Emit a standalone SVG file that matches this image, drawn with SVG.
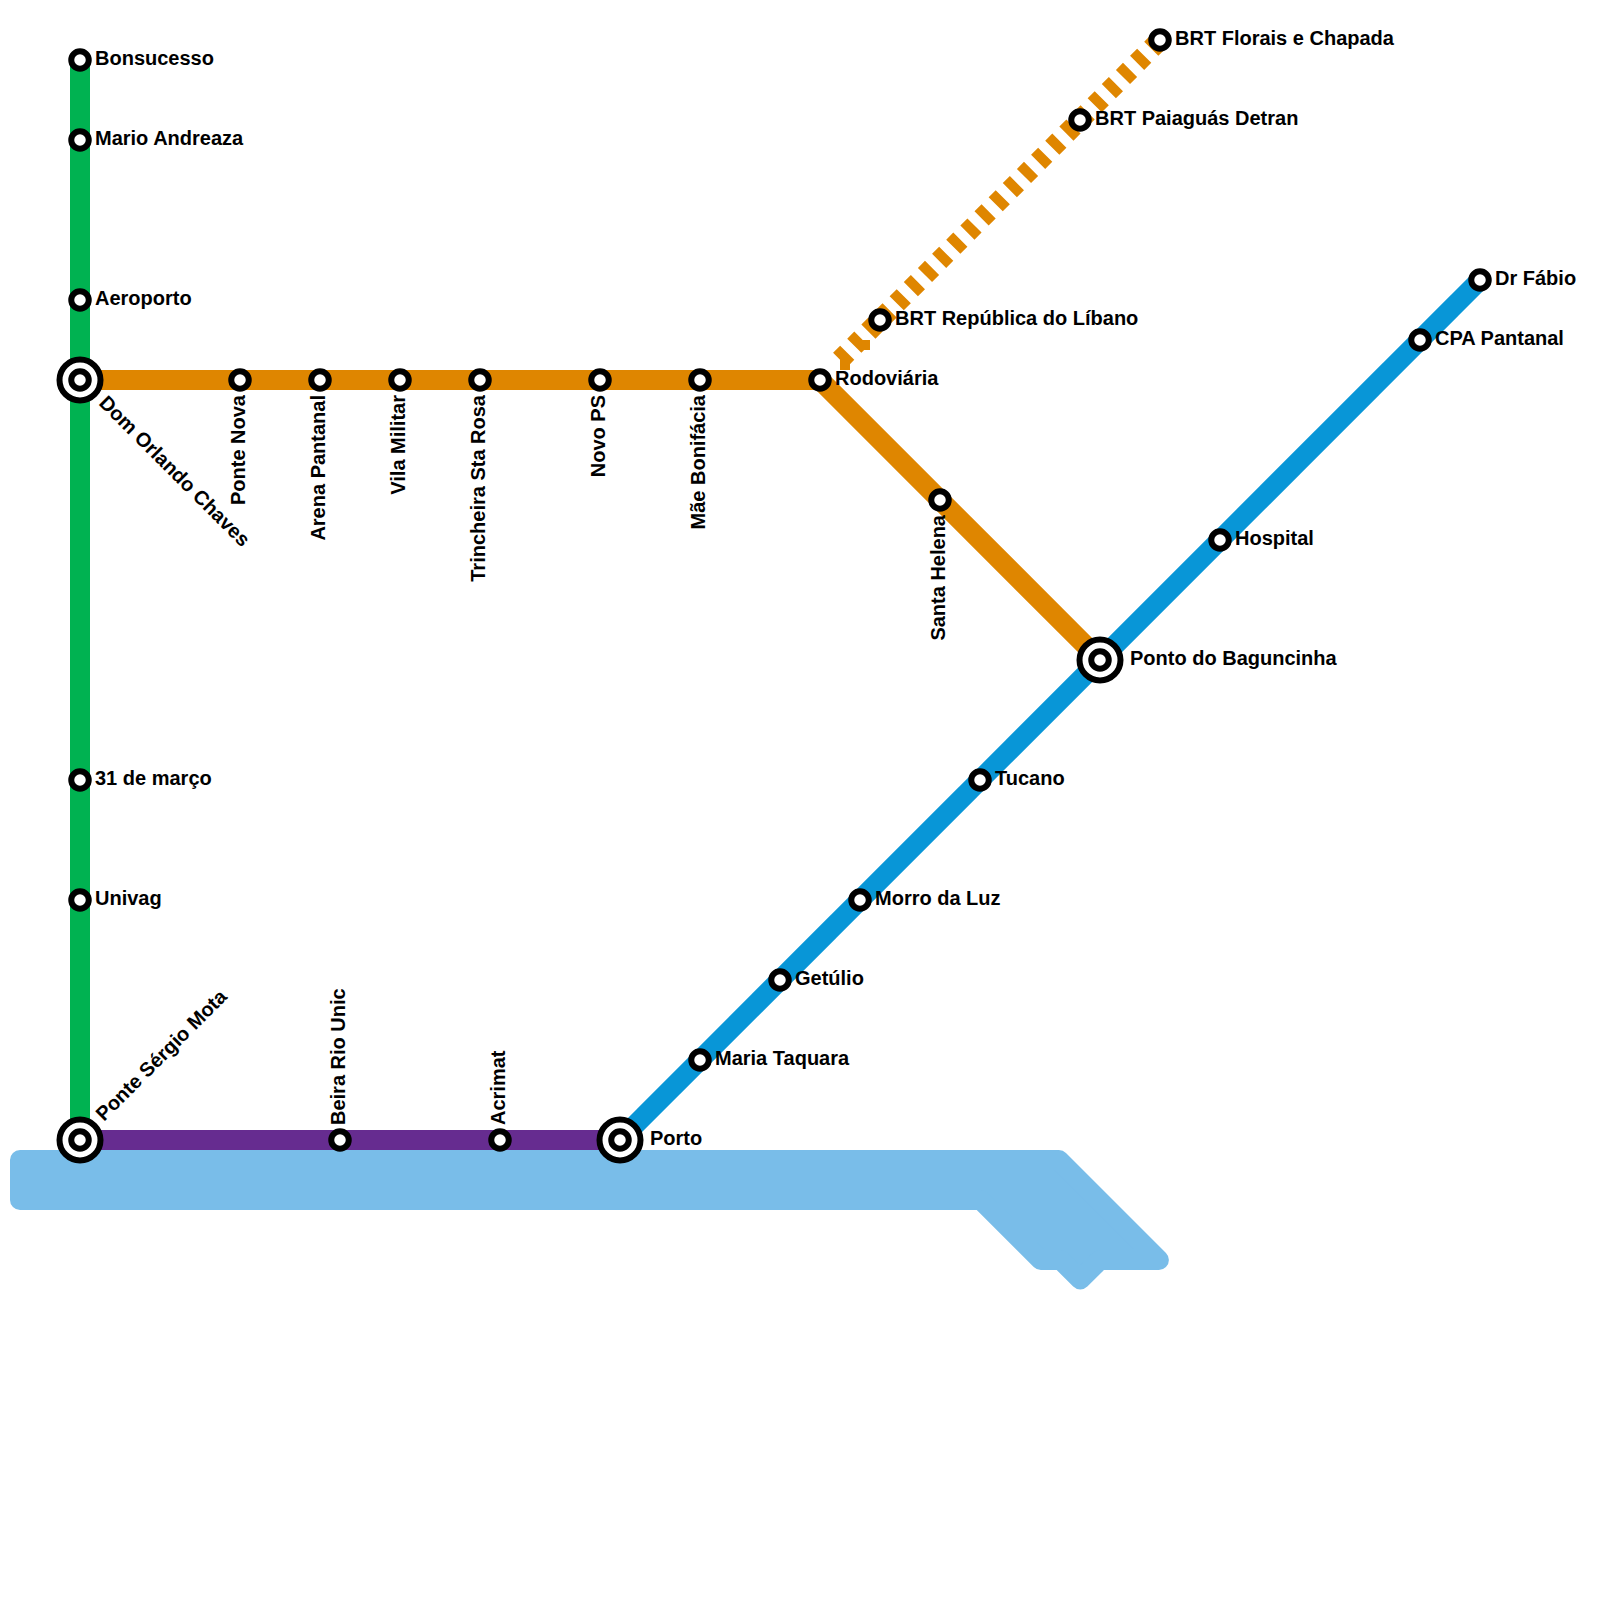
<svg xmlns="http://www.w3.org/2000/svg" width="1600" height="1600" viewBox="0 0 1600 1600">
<style>
.line{fill:none;stroke-width:20}
.st{fill:#fff;stroke:#000;stroke-width:6}
.lb{font-family:"Liberation Sans",Arial,sans-serif;font-weight:700;font-size:20px;fill:#000}
.v{text-anchor:end}
</style>
<defs>
<g id="s"><circle class="st" r="8.75"/></g>
<g id="x"><circle class="st" r="20.5"/><circle class="st" r="8.75"/></g>
</defs>
<path id="water" d="M20 1160H1058.9L1158.9 1260H1099.9L1080.3 1279.5L1060.8 1260H1040.8L980.8 1200H20Z" fill="#79bde9" stroke="#79bde9" stroke-width="20" stroke-linejoin="round"/>
<g id="connectors">
<path class="line" stroke="#00b251" d="M80 60V1140"/>
<path class="line" stroke="#df8600" d="M80 380H820L1100 660"/>
<path class="line" stroke="#662c90" d="M80 1140H620"/>
<path class="line" stroke="#0896d7" d="M620 1140L1480 280"/>
<path class="line" stroke="#df8600" stroke-dasharray="10 10" stroke-dashoffset="-2.35" d="M1160 40L835 365"/>
<path fill="#df8600" d="M840 358H850V370H840ZM860 340H870V350H860Z"/>
</g>
<g id="n-bonsucesso"><use href="#s" x="80" y="60"/><text class="lb" x="95" y="65">Bonsucesso</text></g>
<g id="n-mario"><use href="#s" x="80" y="140"/><text class="lb" x="95" y="145">Mario Andreaza</text></g>
<g id="n-aeroporto"><use href="#s" x="80" y="300"/><text class="lb" x="95" y="305">Aeroporto</text></g>
<g id="n-dom"><use href="#x" x="80" y="380"/><text class="lb" transform="translate(98 404) rotate(45)">Dom Orlando Chaves</text></g>
<g id="n-31"><use href="#s" x="80" y="780"/><text class="lb" x="95" y="785">31 de março</text></g>
<g id="n-univag"><use href="#s" x="80" y="900"/><text class="lb" x="95" y="905">Univag</text></g>
<g id="n-psm"><use href="#x" x="80" y="1140"/><text class="lb" transform="translate(104 1122) rotate(-45)">Ponte Sérgio Mota</text></g>
<g id="n-pontenova"><use href="#s" x="240" y="380"/><text class="lb v" transform="translate(245 395) rotate(-90)">Ponte Nova</text></g>
<g id="n-arena"><use href="#s" x="320" y="380"/><text class="lb v" transform="translate(325 395) rotate(-90)">Arena Pantanal</text></g>
<g id="n-vila"><use href="#s" x="400" y="380"/><text class="lb v" transform="translate(405 395) rotate(-90)">Vila Militar</text></g>
<g id="n-trincheira"><use href="#s" x="480" y="380"/><text class="lb v" transform="translate(485 395) rotate(-90)">Trincheira Sta Rosa</text></g>
<g id="n-novops"><use href="#s" x="600" y="380"/><text class="lb v" transform="translate(605 395) rotate(-90)">Novo PS</text></g>
<g id="n-mae"><use href="#s" x="700" y="380"/><text class="lb v" transform="translate(705 395) rotate(-90)">Mãe Bonifácia</text></g>
<g id="n-rodoviaria"><use href="#s" x="820" y="380"/><text class="lb" x="835" y="385">Rodoviária</text></g>
<g id="n-santa"><use href="#s" x="940" y="500"/><text class="lb v" transform="translate(945 515) rotate(-90)">Santa Helena</text></g>
<g id="n-baguncinha"><use href="#x" x="1100" y="660"/><text class="lb" x="1130" y="665">Ponto do Baguncinha</text></g>
<g id="n-republica"><use href="#s" x="880" y="320"/><text class="lb" x="895" y="325">BRT República do Líbano</text></g>
<g id="n-paiaguas"><use href="#s" x="1080" y="120"/><text class="lb" x="1095" y="125">BRT Paiaguás Detran</text></g>
<g id="n-florais"><use href="#s" x="1160" y="40"/><text class="lb" x="1175" y="45">BRT Florais e Chapada</text></g>
<g id="n-beira"><use href="#s" x="340" y="1140"/><text class="lb" transform="translate(345 1125) rotate(-90)">Beira Rio Unic</text></g>
<g id="n-acrimat"><use href="#s" x="500" y="1140"/><text class="lb" transform="translate(505 1125) rotate(-90)">Acrimat</text></g>
<g id="n-porto"><use href="#x" x="620" y="1140"/><text class="lb" x="650" y="1145">Porto</text></g>
<g id="n-maria"><use href="#s" x="700" y="1060"/><text class="lb" x="715" y="1065">Maria Taquara</text></g>
<g id="n-getulio"><use href="#s" x="780" y="980"/><text class="lb" x="795" y="985">Getúlio</text></g>
<g id="n-morro"><use href="#s" x="860" y="900"/><text class="lb" x="875" y="905">Morro da Luz</text></g>
<g id="n-tucano"><use href="#s" x="980" y="780"/><text class="lb" x="995" y="785">Tucano</text></g>
<g id="n-hospital"><use href="#s" x="1220" y="540"/><text class="lb" x="1235" y="545">Hospital</text></g>
<g id="n-cpa"><use href="#s" x="1420" y="340"/><text class="lb" x="1435" y="345">CPA Pantanal</text></g>
<g id="n-fabio"><use href="#s" x="1480" y="280"/><text class="lb" x="1495" y="285">Dr Fábio</text></g>
</svg>
